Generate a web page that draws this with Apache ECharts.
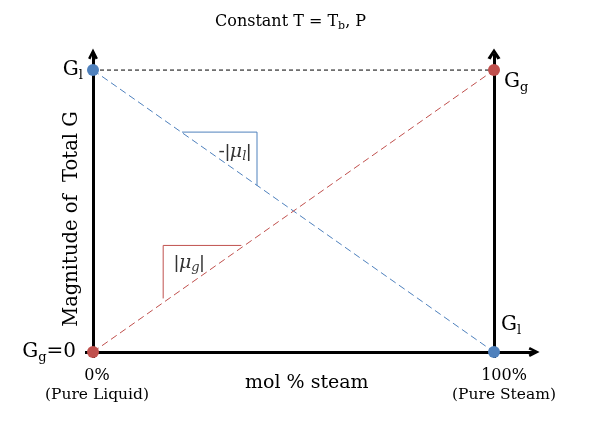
<!DOCTYPE html>
<html><head><meta charset="utf-8">
<script src="https://cdn.jsdelivr.net/npm/echarts@6/dist/echarts.min.js"></script>
<style>html,body{margin:0;padding:0;background:#fff}#c{width:604px;height:421px}</style>
</head><body><div id="c"></div>
<script>
// ---- data ----
const xTicks = [0, 100];
const xTickTop = ['0%', '100%'];
const xTickBottom = ['(Pure Liquid)', '(Pure Steam)'];
const yTicks = [0, 1];
const liquidG = [[0, 1], [100, 0]];      // blue: G of liquid portion falls
const steamG = [[0, 0], [100, 1]];       // red: G of steam portion rises
const topRef = [[0, 1], [100, 1]];
const liquidSlope = [[22.2, 0.78], [40.9, 0.78], [40.9, 0.59]];
const steamSlope = [[17.5, 0.19], [17.5, 0.378], [37, 0.378]];
const liquidSlopeLabel = [35.4, 0.709];
const steamSlopeLabel = [24.0, 0.316];
const xMax = 110, yMax = 1.057;

const SERIF = '"DejaVu Serif", serif';
const BLUE = '#4f81bd', RED = '#c0504d';
const CHEVRON = 'path://M0,10 L5,0 L10,10 L7.6,11.2 L5,5 L2.4,11.2 Z';

const chart = echarts.init(document.getElementById('c'), null, {renderer: 'canvas'});
const subRich = {
  g: {fontFamily: SERIF, fontSize: 20, color: '#000'},
  s: {fontFamily: SERIF, fontSize: 13, color: '#000', padding: [12, 0, 0, 0]},
  z: {fontFamily: SERIF, fontSize: 20, color: '#000', padding: [0, 7, 0, 0]}
};
const muRich = {
  b: {fontFamily: '"Liberation Sans", sans-serif', fontSize: 19, color: '#000'},
  m: {fontFamily: SERIF, fontStyle: 'italic', fontSize: 19, color: '#000'},
  s: {fontFamily: SERIF, fontStyle: 'italic', fontSize: 13, color: '#000', padding: [9, 0, 0, 0]}
};

chart.setOption({
  animation: false,
  backgroundColor: '#fff',
  grid: {left: 93, right: 69.9, top: 54, bottom: 69, containLabel: false},
  title: [
    {text: 'Constant T = T{b|b}, P', left: 210, top: 7,
     textStyle: {fontFamily: SERIF, fontSize: 16, fontWeight: 'normal', color: '#000',
       rich: {b: {fontFamily: SERIF, fontSize: 11, color: '#000', padding: [9, 0, 0, 0]}}}},
    {text: 'mol % steam', left: 240, top: 369,
     textStyle: {fontFamily: SERIF, fontSize: 19, fontWeight: 'normal', color: '#000'}}
  ],
  graphic: [
    {type: 'text', x: 72, y: 219, rotation: Math.PI / 2,
     style: {text: 'Magnitude of  Total G', font: '19.5px ' + SERIF, fill: '#000', align: 'center', verticalAlign: 'middle'}}
  ],
  xAxis: {
    type: 'value', min: 0, max: xMax,
    splitLine: {show: false},
    axisLine: {show: true, lineStyle: {color: '#000', width: 3}, symbol: ['none', CHEVRON], symbolSize: [13, 11]},
    axisTick: {show: true, customValues: xTicks, length: 6, lineStyle: {color: '#000', width: 3}},
    axisLabel: {
      show: true, customValues: xTicks, margin: 14,
      formatter: v => {
        const i = xTicks.indexOf(v);
        return '{' + (i === 0 ? 'a' : 'c') + '|' + xTickTop[i] + '}\n{' + (i === 0 ? 'b' : 'd') + '|' + xTickBottom[i] + '}';
      },
      rich: {
        a: {fontFamily: SERIF, fontSize: 16, color: '#000', lineHeight: 19, padding: [0, 0, 0, 8]},
        b: {fontFamily: SERIF, fontSize: 15.5, color: '#000', lineHeight: 19, padding: [0, 0, 0, 8]},
        c: {fontFamily: SERIF, fontSize: 16, color: '#000', lineHeight: 19, padding: [0, 0, 0, 20]},
        d: {fontFamily: SERIF, fontSize: 15.5, color: '#000', lineHeight: 19, padding: [0, 0, 0, 20]}
      }
    }
  },
  yAxis: {
    type: 'value', min: 0, max: yMax,
    splitLine: {show: false},
    axisLine: {show: true, lineStyle: {color: '#000', width: 3}, symbol: ['none', CHEVRON], symbolSize: [13, 11]},
    axisTick: {show: true, customValues: [0], length: 8, lineStyle: {color: '#000', width: 3}},
    axisLabel: {
      show: true, customValues: yTicks, margin: 10,
      formatter: v => v === 1 ? '{g|G}{s|l}' : '{g|G}{s|g}{z|=0}',
      rich: subRich
    }
  },
  series: [
    {type: 'line', data: topRef, symbol: 'none', silent: true,
     lineStyle: {color: '#000', width: 1, type: [4, 3]}, z: 2,
     markLine: {
       silent: true, symbol: ['none', CHEVRON], symbolSize: [13, 11], label: {show: false},
       lineStyle: {color: '#000', width: 3, type: 'solid'},
       data: [[{coord: [100, 0]}, {coord: [100, yMax]}]]
     }},
    {type: 'line', data: liquidG, symbol: 'none', silent: true,
     lineStyle: {color: BLUE, width: 1, type: [7, 4]}, z: 2},
    {type: 'line', data: steamG, symbol: 'none', silent: true,
     lineStyle: {color: RED, width: 1, type: [7, 4]}, z: 2},
    {type: 'line', data: liquidSlope, symbol: 'none', silent: true,
     lineStyle: {color: BLUE, width: 1}, z: 2},
    {type: 'line', data: steamSlope, symbol: 'none', silent: true,
     lineStyle: {color: RED, width: 1}, z: 2},
    {type: 'scatter', symbolSize: 12, z: 5, itemStyle: {color: BLUE, opacity: 1},
     data: [
       {value: liquidG[0]},
       {value: liquidG[1], label: {show: true, position: 'top', offset: [17, -4],
         formatter: '{g|G}{s|l}', rich: subRich}}
     ]},
    {type: 'scatter', symbolSize: 12, z: 5, itemStyle: {color: RED, opacity: 1},
     data: [
       {value: steamG[0]},
       {value: steamG[1], label: {show: true, position: 'right', offset: [-1, 12],
         formatter: '{g|G}{s|g}', rich: subRich}}
     ]},
    {type: 'scatter', symbolSize: 0, z: 6, silent: true,
     data: [
       {value: liquidSlopeLabel, label: {show: true, position: 'inside', formatter: '{b|-|}{m|μ}{s|l}{b||}', rich: muRich}},
       {value: steamSlopeLabel, label: {show: true, position: 'inside', formatter: '{b||}{m|μ}{s|g}{b||}', rich: muRich}}
     ]}
  ]
});
</script>
</body></html>
